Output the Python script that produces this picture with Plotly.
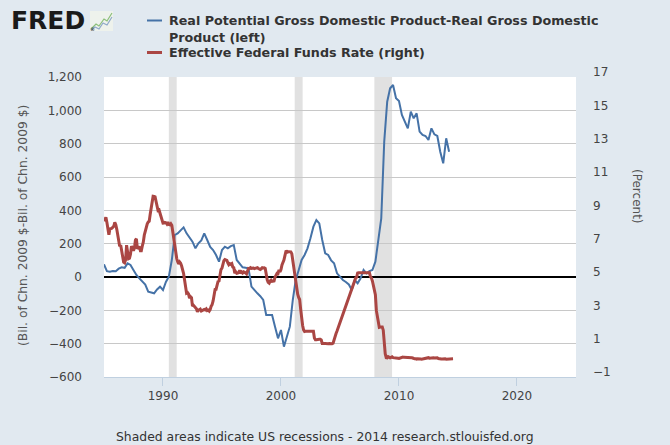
import pandas as pd
import plotly.graph_objects as go

# --- data ---------------------------------------------------------------
# Real Potential GDP - Real GDP, quarterly, 1985Q1 .. 2014Q2 (bil. chn. 2009 $)
GAP_START = "1985-01-01"
gap_values = [
    76, 35, 32, 36,          # 1985
    35, 50, 58, 55,          # 1986
    82, 72, 42, 12,          # 1987
    -8, -30, -45, -88,       # 1988
    -92, -98, -75, -58,      # 1989
    -78, -30, 2, 102,        # 1990
    252, 262, 280, 298,      # 1991
    262, 235, 212, 172,      # 1992
    202, 220, 262, 222,      # 1993
    180, 162, 132, 92,       # 1994
    162, 182, 172, 185,      # 1995
    192, 102, 80, 58,        # 1996
    55, 52, -58, -75,        # 1997
    -98, -115, -138, -228,   # 1998
    -228, -228, -298, -368,  # 1999
    -318, -418, -358, -298,  # 2000
    -138, -18, 40, 102,      # 2001
    132, 172, 232, 302,      # 2002
    342, 322, 222, 142,      # 2003
    132, 100, 82, 22,        # 2004
    2, -18, -30, -45,        # 2005
    -78, -18, -38, -8,       # 2006
    42, 22, 35, 42,          # 2007
    92, 235, 352, 812,       # 2008
    1052, 1132, 1152, 1072,  # 2009
    1056, 972, 930, 892,     # 2010
    992, 952, 982, 872,      # 2011
    852, 846, 822, 892,      # 2012
    856, 846, 752, 682,      # 2013
    832, 752,                # 2014
]

# Effective Federal Funds Rate, monthly from Jan 1985 (percent)
FFR_START = "1985-01-01"
ffr_values = [
    8.35, 8.50, 8.58, 8.27, 7.97, 7.53, 7.88, 7.90, 7.92, 7.99, 8.05, 8.27,  # 1985
    8.14, 7.86, 7.48, 6.99, 6.85, 6.92, 6.56, 6.17, 5.89, 5.85, 6.04, 6.91,  # 1986
    6.43, 6.10, 6.13, 6.37, 6.85, 6.73, 6.58, 6.73, 7.22, 7.29, 6.69, 6.77,  # 1987
    6.83, 6.58, 6.58, 6.87, 7.09, 7.51, 7.75, 8.01, 8.19, 8.30, 8.35, 8.76,  # 1988
    9.12, 9.36, 9.85, 9.84, 9.81, 9.53, 9.24, 8.99, 9.02, 8.84, 8.55, 8.45,  # 1989
    8.23, 8.24, 8.28, 8.26, 8.18, 8.29, 8.15, 8.13, 8.20, 8.11, 7.81, 7.31,  # 1990
    6.91, 6.25, 6.12, 5.91, 5.78, 5.90, 5.82, 5.66, 5.45, 5.21, 4.81, 4.43,  # 1991
    4.03, 4.06, 3.98, 3.73, 3.82, 3.76, 3.25, 3.30, 3.22, 3.10, 3.09, 2.92,  # 1992
    3.02, 3.03, 3.07, 2.96, 3.00, 3.04, 3.06, 3.03, 3.09, 2.99, 3.02, 2.96,  # 1993
    3.05, 3.25, 3.34, 3.56, 4.01, 4.25, 4.26, 4.47, 4.73, 4.76, 5.29, 5.45,  # 1994
    5.53, 5.92, 5.98, 6.05, 6.01, 6.00, 5.85, 5.74, 5.80, 5.76, 5.80, 5.60,  # 1995
    5.56, 5.22, 5.31, 5.22, 5.24, 5.27, 5.40, 5.22, 5.30, 5.24, 5.31, 5.29,  # 1996
    5.25, 5.19, 5.39, 5.51, 5.50, 5.56, 5.52, 5.54, 5.54, 5.50, 5.52, 5.50,  # 1997
    5.56, 5.51, 5.49, 5.45, 5.49, 5.56, 5.54, 5.55, 5.51, 5.07, 4.83, 4.68,  # 1998
    4.63, 4.76, 4.81, 4.74, 4.74, 4.76, 4.99, 5.07, 5.22, 5.20, 5.42, 5.30,  # 1999
    5.45, 5.73, 5.85, 6.02, 6.27, 6.53, 6.54, 6.50, 6.52, 6.51, 6.51, 6.40,  # 2000
    5.98, 5.49, 5.31, 4.80, 4.21, 3.97, 3.77, 3.65, 3.07, 2.49, 2.09, 1.82,  # 2001
    1.73, 1.74, 1.73, 1.75, 1.75, 1.75, 1.73, 1.74, 1.75, 1.75, 1.34, 1.24,  # 2002
    1.24, 1.26, 1.25, 1.26, 1.26, 1.22, 1.01, 1.03, 1.01, 1.01, 1.00, 0.98,  # 2003
    1.00, 1.01, 1.00, 1.00, 1.00, 1.03, 1.26, 1.43, 1.61, 1.76, 1.93, 2.16,  # 2004
    2.28, 2.50, 2.63, 2.79, 3.00, 3.04, 3.26, 3.50, 3.62, 3.78, 4.00, 4.16,  # 2005
    4.29, 4.49, 4.59, 4.79, 4.94, 4.99, 5.24, 5.25, 5.25, 5.25, 5.25, 5.24,  # 2006
    5.25, 5.26, 5.26, 5.25, 5.25, 5.25, 5.26, 5.02, 4.94, 4.76, 4.49, 4.24,  # 2007
    3.94, 2.98, 2.61, 2.28, 1.98, 2.00, 2.01, 2.00, 1.81, 0.97, 0.39, 0.16,  # 2008
    0.15, 0.22, 0.18, 0.15, 0.18, 0.21, 0.16, 0.16, 0.15, 0.12, 0.12, 0.12,  # 2009
    0.11, 0.13, 0.16, 0.20, 0.20, 0.18, 0.18, 0.19, 0.19, 0.19, 0.19, 0.18,  # 2010
    0.17, 0.16, 0.14, 0.10, 0.09, 0.09, 0.07, 0.10, 0.08, 0.07, 0.08, 0.07,  # 2011
    0.08, 0.10, 0.13, 0.14, 0.16, 0.16, 0.16, 0.13, 0.14, 0.16, 0.16, 0.16,  # 2012
    0.14, 0.15, 0.14, 0.15, 0.11, 0.09, 0.09, 0.08, 0.08, 0.09, 0.08, 0.09,  # 2013
    0.07, 0.07, 0.08, 0.09, 0.09, 0.10, 0.09, 0.09,                          # 2014
]

# NBER recessions (shaded)
rec_start = ["1990-07-01", "2001-03-01", "2007-12-01"]
rec_end = ["1991-03-01", "2001-11-01", "2009-06-01"]

gap_dates = pd.date_range(GAP_START, periods=len(gap_values), freq="QS")
ffr_dates = pd.date_range(FFR_START, periods=len(ffr_values), freq="MS")

BLUE = "#4572A7"
RED = "#AA4643"
BG = "#E1E9F0"
FONT = "DejaVu Sans"

# plot box in pixels, used to place the header / legend / notes
L, T, PW, PH = 104, 77, 472, 300


def paper(xp, yp):
    return (xp - L) / PW, (T + PH - yp) / PH


fig = go.Figure()

fig.add_trace(go.Scatter(
    x=gap_dates, y=gap_values,
    name="Real Potential Gross Domestic Product-Real Gross Domestic Product (left)",
    mode="lines", line=dict(color=BLUE, width=2), yaxis="y",
))
fig.add_trace(go.Scatter(
    x=ffr_dates, y=ffr_values,
    name="Effective Federal Funds Rate (right)",
    mode="lines", line=dict(color=RED, width=3), yaxis="y2",
))

for s, e in zip(rec_start, rec_end):
    fig.add_vrect(x0=s, x1=e, fillcolor="#E1E1E1", opacity=1,
                  line_width=0, layer="below")

tickfont = dict(family=FONT, size=12, color="#444444")

fig.update_layout(
    width=670, height=445, autosize=False,
    margin=dict(l=L, r=670 - L - PW, t=T, b=445 - T - PH),
    paper_bgcolor=BG, plot_bgcolor="white",
    showlegend=False,
    xaxis=dict(
        type="date", range=["1985-01-01", "2025-01-01"],
        tick0="1990-01-01", dtick="M120", tickformat="%Y",
        ticks="outside", ticklen=8, tickcolor="#C0D0E0",
        showline=True, linecolor="#C0D0E0", showgrid=False,
        tickfont=tickfont,
    ),
    yaxis=dict(
        range=[-600, 1200], dtick=200, tickformat=",",
        gridcolor="#C8C8C8", gridwidth=1,
        zeroline=True, zerolinecolor="black", zerolinewidth=2,
        tickfont=tickfont, ticklabelstandoff=21,
    ),
    yaxis2=dict(
        overlaying="y", side="right", range=[-1, 17], tick0=-1, dtick=2,
        showgrid=False, zeroline=False,
        tickfont=tickfont, ticklabelstandoff=16, ticklabelshift=-5,
    ),
)

annots = []
# axis titles
x, y = paper(23, 226)
annots.append(dict(text="(Bil. of Chn. 2009 $-Bil. of Chn. 2009 $)", x=x, y=y,
                   textangle=-90, font=dict(family=FONT, size=12.3, color="#555555")))
x, y = paper(637, 196)
annots.append(dict(text="(Percent)", x=x, y=y, textangle=90,
                   font=dict(family=FONT, size=12, color="#555555")))
# footer
x, y = paper(325, 436)
annots.append(dict(text="Shaded areas indicate US recessions - 2014 research.stlouisfed.org",
                   x=x, y=y, font=dict(family=FONT, size=12.4, color="#333333")))
# FRED mark
x, y = paper(9, 21)
annots.append(dict(text="<b>FRED</b>", x=x, y=y, xanchor="left",
                   font=dict(family=FONT, size=25, color="#1A1A1A")))
x, y = paper(88, 29)
annots.append(dict(text="®", x=x, y=y, xanchor="left",
                   font=dict(family=FONT, size=5, color="#1A1A1A")))
# legend text
legend_font = dict(family=FONT, size=12.7, color="#333333")
x, y = paper(167, 20)
annots.append(dict(text="<b>Real Potential Gross Domestic Product-Real Gross Domestic</b>",
                   x=x, y=y, xanchor="left", font=legend_font))
x, y = paper(167, 37)
annots.append(dict(text="<b>Product (left)</b>", x=x, y=y, xanchor="left", font=legend_font))
x, y = paper(167, 53)
annots.append(dict(text="<b>Effective Federal Funds Rate (right)</b>",
                   x=x, y=y, xanchor="left", font=legend_font))

for a in annots:
    a.update(xref="paper", yref="paper", showarrow=False)
    a.setdefault("xanchor", "center")
    a.setdefault("yanchor", "middle")
fig.update_layout(annotations=annots)

# legend swatches
for yp, col, w in [(20.5, BLUE, 2), (52.5, RED, 3)]:
    x0, y0 = paper(147, yp)
    x1, _ = paper(162, yp)
    fig.add_shape(type="line", xref="paper", yref="paper",
                  x0=x0, x1=x1, y0=y0, y1=y0, line=dict(color=col, width=w))

# little chart icon next to the FRED mark
x0, y0 = paper(90, 31)
x1, y1 = paper(113, 11)
fig.add_shape(type="rect", xref="paper", yref="paper", x0=x0, y0=y0, x1=x1, y1=y1,
              fillcolor="#EEF2EC", line=dict(width=0))
for pts, col in [([(91, 29), (96, 24), (99, 26), (104, 19), (107, 21), (112, 13)], "#8CBF7A"),
                 ([(91, 30), (95, 27), (99, 29), (103, 23), (107, 25), (112, 17)], "#8FA9C8")]:
    path = ""
    for i, (a, b) in enumerate(pts):
        px, py = paper(a, b)
        path += ("M" if i == 0 else "L") + f"{px:.4f},{py:.4f} "
    fig.add_shape(type="path", xref="paper", yref="paper", path=path,
                  line=dict(color=col, width=1.2))

# the page's default 8px body margin would push the fixed-size figure off the window
fig.write_html("out.html", config={"displayModeBar": False},
               post_script="document.body.style.margin='0';")
